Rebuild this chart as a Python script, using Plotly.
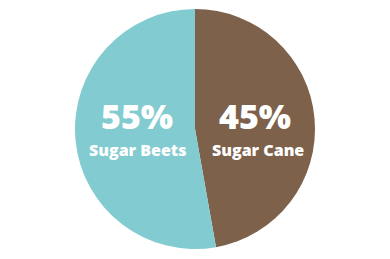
import plotly.graph_objects as go

labels = ["Sugar Cane", "Sugar Beets"]
values = [47.2, 52.8]
pct_text = ["45%", "55%"]
colors = ["#7D614B", "#82CBD0"]

W, H = 390, 259
fig = go.Figure(go.Pie(
    labels=labels, values=values, sort=False, direction="clockwise", rotation=0,
    marker=dict(colors=colors, line=dict(width=0)),
    textinfo="none", hoverinfo="label+percent", showlegend=False,
    domain=dict(x=[75/W, 315/W], y=[10/H, 250/H]),
))

# label placement (pixel centres)
pos = {"Sugar Beets": (137, 116, 137, 150), "Sugar Cane": (255, 116, 258, 150)}
ann = []
for lab, pt in zip(labels, pct_text):
    x1, y1, x2, y2 = pos[lab]
    ann.append(dict(x=x1/W, y=1-y1/H, xref="paper", yref="paper", text=pt, showarrow=False,
                    font=dict(family="Open Sans", size=34, color="white", weight=800),
                    xanchor="center", yanchor="middle"))
    ann.append(dict(x=x2/W, y=1-y2/H, xref="paper", yref="paper", text=lab, showarrow=False,
                    font=dict(family="Open Sans", size=16, color="white", weight=800),
                    xanchor="center", yanchor="middle"))

fig.update_layout(width=W, height=H, margin=dict(l=0, r=0, t=0, b=0),
                  paper_bgcolor="white", plot_bgcolor="white", annotations=ann)
fig.write_html("out.html")
